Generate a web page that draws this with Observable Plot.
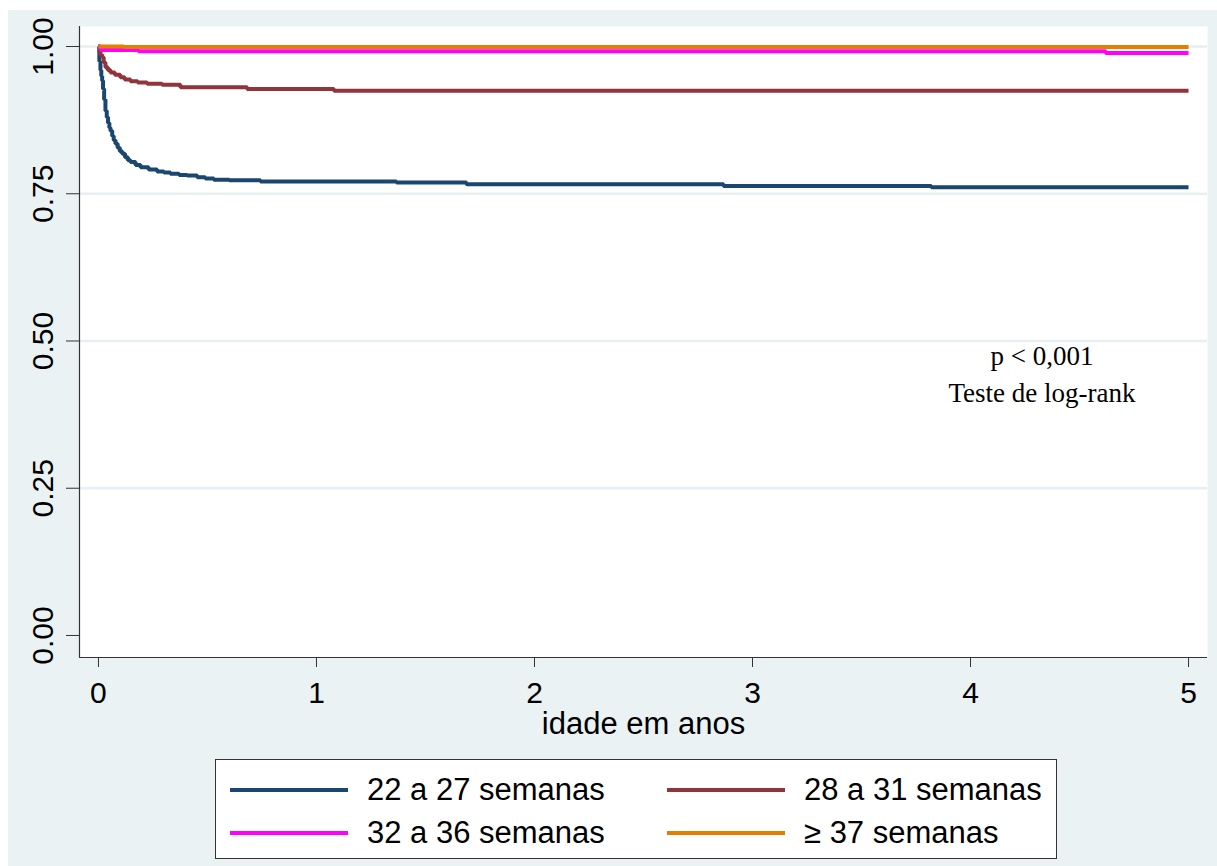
<!DOCTYPE html>
<html><head><meta charset="utf-8">
<script src="https://cdn.jsdelivr.net/npm/d3@7"></script>
<script src="https://cdn.jsdelivr.net/npm/@observablehq/plot@0.6"></script>
<style>
body{margin:0;background:#fff;font-family:"Liberation Sans",Arial,sans-serif;}
#wrap{position:absolute;left:8px;top:10px;width:1209px;height:856px;background:#eaf2f3;}
#chart{position:absolute;left:0;top:0;}
#legend{position:absolute;left:207px;top:749px;width:842px;height:100px;background:#fff;border:1px solid #333;box-sizing:border-box;}
.item{position:absolute;height:40px;display:flex;align-items:center;font-size:31px;line-height:40px;color:#000;white-space:nowrap;}
.sw{width:118px;height:4px;margin-right:19px;}
</style></head>
<body>
<div id="wrap"><div id="chart"></div><div id="legend"></div></div>
<script>
// ---- data ----
const groups = ["22 a 27 semanas", "28 a 31 semanas", "32 a 36 semanas", "\u2265 37 semanas"];
const colors = ["#1a476f", "#90353b", "#ff00ff", "#e37e00"];

const t22 = [0, 0.004, 0.009, 0.013, 0.017, 0.021, 0.026, 0.032, 0.038, 0.044, 0.05, 0.055, 0.063, 0.07, 0.078, 0.088, 0.098, 0.109, 0.122, 0.135, 0.147, 0.17, 0.193, 0.23, 0.269, 0.3, 0.33, 0.37, 0.407, 0.453, 0.49, 0.529, 0.6, 0.743, 1.367, 1.688, 2.867, 3.82, 5];
const s22 = [1, 0.975, 0.96, 0.95, 0.942, 0.928, 0.91, 0.891, 0.88, 0.87, 0.862, 0.857, 0.848, 0.841, 0.835, 0.828, 0.822, 0.818, 0.812, 0.807, 0.804, 0.799, 0.795, 0.791, 0.788, 0.786, 0.784, 0.782, 0.781, 0.778, 0.776, 0.774, 0.773, 0.771, 0.769, 0.766, 0.763, 0.761, 0.761];

const t28 = [0, 0.005, 0.01, 0.017, 0.024, 0.032, 0.043, 0.055, 0.075, 0.1, 0.12, 0.147, 0.18, 0.223, 0.292, 0.376, 0.682, 1.08, 5];
const s28 = [1, 0.99, 0.986, 0.982, 0.973, 0.965, 0.96, 0.956, 0.952, 0.948, 0.944, 0.941, 0.939, 0.937, 0.935, 0.931, 0.928, 0.925, 0.925];

const t32 = [0, 0.01, 0.183, 4.62, 5];
const s32 = [1, 0.994, 0.992, 0.989, 0.989];

const t37 = [0, 0.116, 5];
const s37 = [1, 0.999, 0.999];

const xTicks = [0, 1, 2, 3, 4, 5];
const yTicks = [0, 0.25, 0.5, 0.75, 1];
const gridTicks = [0.25, 0.5, 0.75, 1];
const xDomain = [-0.087, 5.087];
const yDomain = [-0.0374, 1.034];

const annX = [4.328, 4.328];
const annY = [0.4584, 0.397];
const annText = ["p < 0,001", "Teste de log-rank"];

// ---- build ----
const series = [[t22, s22], [t28, s28], [t32, s32], [t37, s37]];
const rows = series.flatMap(([t, s], i) => t.map((d, j) => ({t: d, s: s[j], g: groups[i]})));
const ann = annText.map((text, i) => ({x: annX[i], y: annY[i], text}));

const chart = Plot.plot({
  width: 1209,
  height: 740,
  marginLeft: 71,
  marginTop: 16,
  marginRight: 10,
  marginBottom: 93,
  style: {background: "transparent", fontFamily: "'Liberation Sans', Arial, sans-serif", overflow: "visible"},
  x: {domain: xDomain},
  y: {domain: yDomain},
  color: {domain: groups, range: colors},
  marks: [
    Plot.frame({fill: "#fff", stroke: "none"}),
    Plot.ruleY(gridTicks, {stroke: "#e6eff1", strokeWidth: 2.5}),
    Plot.ruleX([xDomain[0]], {stroke: "#333", strokeWidth: 1.2}),
    Plot.ruleY([yDomain[0]], {stroke: "#333", strokeWidth: 1.2}),
    Plot.axisY({ticks: yTicks, tickFormat: d3.format(".2f"), tickSize: 13, tickRotate: -90, tickPadding: 14, fontSize: 30, fill: "#000", stroke: "#333", label: null}),
    Plot.axisX({ticks: xTicks, tickFormat: d3.format("d"), tickSize: 10, tickPadding: 14, fontSize: 30, fill: "#000", stroke: "#333", label: null}),
    Plot.text(["idade em anos"], {frameAnchor: "bottom", dy: 76, lineAnchor: "bottom", fontSize: 31, fill: "#000"}),
    Plot.line(rows, {x: "t", y: "s", z: "g", stroke: "g", strokeWidth: 4, curve: "step-after", strokeLinecap: "butt", strokeLinejoin: "miter"}),
    Plot.text(ann, {x: "x", y: "y", text: "text", lineAnchor: "bottom", fontSize: 27, fontFamily: "'Liberation Serif', 'Times New Roman', serif", fill: "#000"})
  ]
});
document.getElementById("chart").appendChild(chart);

// legend
const legend = document.getElementById("legend");
const pos = [[14, 10], [451, 10], [14, 53], [451, 53]];
groups.forEach((g, i) => {
  const it = document.createElement("div");
  it.className = "item";
  it.style.left = pos[i][0] + "px";
  it.style.top = pos[i][1] + "px";
  const sw = document.createElement("div");
  sw.className = "sw";
  sw.style.background = colors[i];
  const tx = document.createElement("span");
  tx.textContent = g;
  it.appendChild(sw);
  it.appendChild(tx);
  legend.appendChild(it);
});
</script>
</body></html>
